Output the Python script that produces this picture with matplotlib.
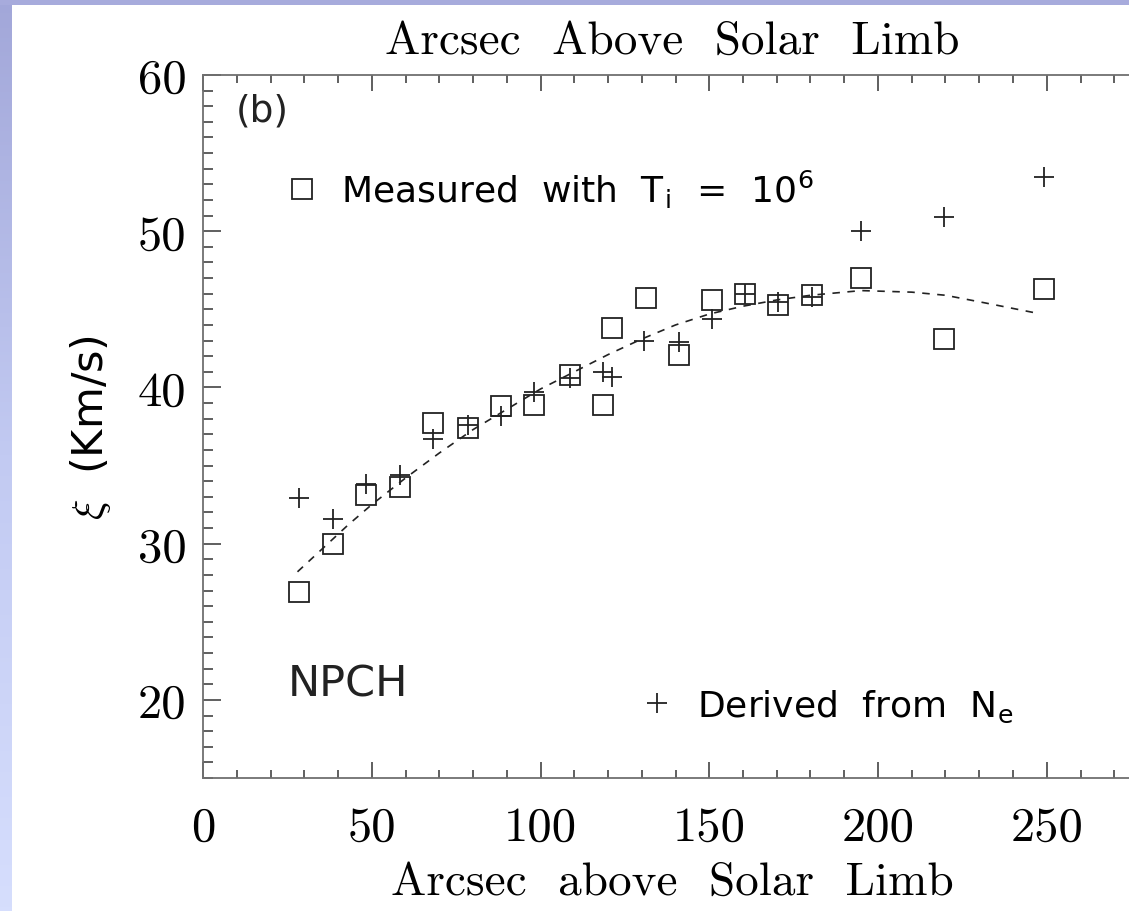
import numpy as np
import matplotlib
matplotlib.use("Agg")
import matplotlib.pyplot as plt
from matplotlib.patches import Rectangle
from matplotlib.colors import LinearSegmentedColormap
from matplotlib.lines import Line2D

# measured line widths (squares) and values derived from density (plus signs)
meas_x = [28.5, 38.4, 48.2, 58.5, 68.2, 78.5, 88.4, 98.2, 108.6, 118.4,
          121.1, 131.3, 141.1, 150.8, 160.6, 170.4, 180.3, 195.1, 219.7, 249.1]
meas_y = [26.9, 30.0, 33.1, 33.6, 37.7, 37.4, 38.8, 38.9, 40.8, 38.9,
          43.8, 45.75, 42.1, 45.6, 46.0, 45.3, 45.9, 47.0, 43.1, 46.3]

deriv_x = [28.5, 38.4, 48.2, 58.5, 68.2, 78.5, 88.4, 98.2, 108.6, 118.4,
           121.1, 130.8, 141.1, 150.7, 160.6, 170.4, 180.3, 194.9, 219.5, 249.1]
deriv_y = [32.9, 31.6, 33.8, 34.4, 36.7, 37.6, 38.2, 39.7, 40.6, 41.0,
           40.7, 43.0, 42.9, 44.4, 46.0, 45.5, 45.8, 50.0, 50.9, 53.5]

# fitted curve
fit_x = [28, 35, 43, 50, 60, 70, 80, 90, 100, 110, 120, 130, 140, 150,
         160, 170, 180, 195, 210, 220, 232, 246]
fit_y = [28.2, 29.6, 31.2, 32.5, 34.2, 35.8, 37.3, 38.6, 39.9, 41.0, 42.1,
         43.1, 44.0, 44.7, 45.2, 45.6, 45.9, 46.2, 46.1, 45.9, 45.4, 44.8]

xticks = [0, 50, 100, 150, 200, 250]
xtick_labels = ["0", "50", "100", "150", "200", "250"]
yticks = [20, 30, 40, 50, 60]
ytick_labels = ["20", "30", "40", "50", "60"]

plt.rcParams["mathtext.fontset"] = "cm"
serif = "cmr10"
sans = "DejaVu Sans"
ink = "#222222"

W, H = 1129, 912
fig = plt.figure(figsize=(W / 100, H / 100), dpi=100)
fig.patch.set_facecolor("white")

# slide border: lavender strip on top, gradient strip on the left
strip = fig.add_axes([0, 0, 12 / W, 1])
strip.set_axis_off()
cmap = LinearSegmentedColormap.from_list("edge", ["#d6defd", "#c2caf2", "#a2a7d9"])
strip.imshow(np.linspace(0, 1, 256)[:, None], aspect="auto", cmap=cmap,
             origin="lower", extent=[0, 1, 0, 1])
fig.patches.append(Rectangle((0, 1 - 6 / H), 1, 6 / H, transform=fig.transFigure,
                             facecolor="#a7abdc", edgecolor="none", zorder=5))

x_scale = 3.375
xmax = 278
ax = fig.add_axes([203 / W, 133 / H, xmax * x_scale / W, 703 / H])
ax.set_xlim(0, xmax)
ax.set_ylim(15, 60)

ax.plot(fit_x, fit_y, color=ink, lw=1.2, dashes=(4.5, 4.5))
ax.plot(meas_x, meas_y, ls="none", marker="s", ms=14, mfc="none", mec=ink, mew=1.3)
ax.plot(deriv_x, deriv_y, ls="none", marker="+", ms=14, mec=ink, mew=1.3)

for s in ax.spines.values():
    s.set_color("#707070")
    s.set_linewidth(1.3)

ax.set_xticks(xticks)
ax.set_xticklabels(xtick_labels, fontfamily=serif, fontsize=35)
ax.set_xticks(np.arange(0, xmax, 10), minor=True)
ax.set_yticks(yticks)
ax.set_yticklabels(ytick_labels, fontfamily=serif, fontsize=35)
ax.set_yticks(np.arange(15, 61, 1), minor=True)
ax.tick_params(axis="x", which="both", direction="in", top=True, color="#444444", width=1.2)
ax.tick_params(axis="x", which="major", length=11.5, pad=20)
ax.tick_params(axis="x", which="minor", length=6)
ax.tick_params(axis="y", which="both", direction="in", color="#444444", width=1.2)
ax.tick_params(axis="y", which="major", length=13, pad=12)
ax.tick_params(axis="y", which="minor", length=7)

ax.set_title("Arcsec  Above  Solar  Limb", fontfamily=serif, fontsize=34, pad=16)
ax.set_xlabel("Arcsec  above  Solar  Limb", fontfamily=serif, fontsize=34, labelpad=8)
ax.set_ylabel(r"$\xi$  (Km/s)", fontfamily=sans, fontsize=31, labelpad=18)

ax.text(0.035, 0.950, "(b)", transform=ax.transAxes, fontfamily=sans,
        fontsize=27, va="center", ha="left", color=ink)
ax.text(0.0906, 0.135, "NPCH", transform=ax.transAxes, fontfamily=sans,
        fontsize=31, va="center", ha="left", color=ink)

sq = Line2D([], [], ls="none", marker="s", ms=14, mfc="none", mec=ink, mew=1.3)
pl = Line2D([], [], ls="none", marker="+", ms=14, mec=ink, mew=1.3)
leg_kw = dict(frameon=False, loc="center left", borderpad=0, borderaxespad=0,
              handlelength=1.0, handletextpad=0.6, numpoints=1,
              prop={"family": sans, "size": 26})
leg1 = ax.legend([sq], [r"Measured  with  T$_\mathregular{i}$  =  10$^\mathregular{6}$"],
                 bbox_to_anchor=(0.0859, 0.8385), **leg_kw)
ax.add_artist(leg1)
ax.legend([pl], [r"Derived  from  N$_\mathregular{e}$"],
          bbox_to_anchor=(0.4647, 0.1024), **leg_kw)

fig.savefig("out.png", dpi=100)
